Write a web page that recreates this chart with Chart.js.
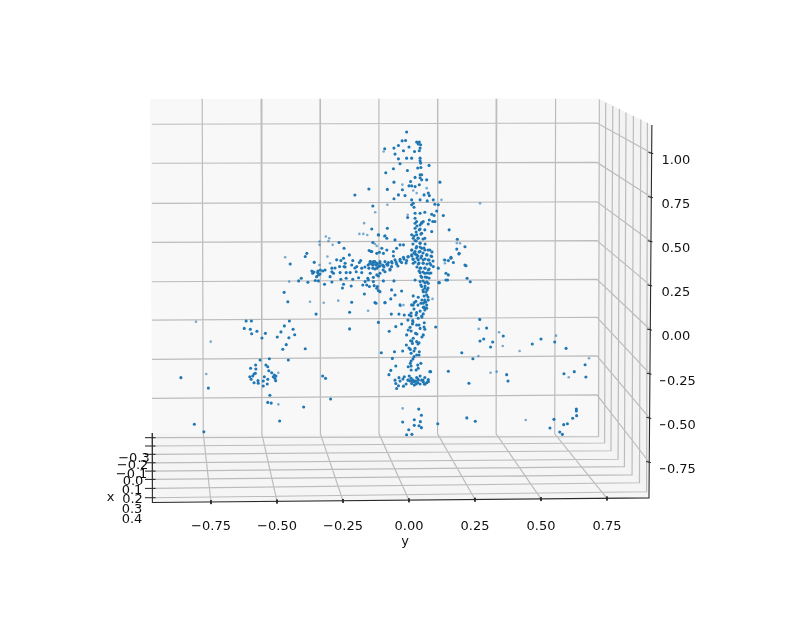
<!DOCTYPE html>
<html><head><meta charset="utf-8">
<script src="https://cdn.jsdelivr.net/npm/chart.js@4/dist/chart.umd.min.js"></script>
<style>html,body{margin:0;padding:0;background:#fff}canvas{display:block;filter:blur(0.45px)}</style>
</head><body><canvas id="c" width="795" height="636"></canvas>
<script>
// Tick labels
const yTicks=[-0.75,-0.5,-0.25,0,0.25,0.5,0.75];
const zTicks=[1,0.75,0.5,0.25,0,-0.25,-0.5,-0.75];
const depthTicks=["−0.3","−0.2","−0.1","0.0","0.1","0.2","0.3","0.4"];
// Scatter values [y, z] (projected)
const nearPoints=[
[-.864,-.271],[-.760,-.330],[-.813,-.535],[-.777,-.577],[-.617,.050],[-.597,.050],[-.624,.008],[-.601,.003],[-.596,-.022],[-.576,-.008],[-.544,-.020],[-.557,-.046],[-.453,.050],[-.472,.022],[-.485,-.012],[-.499,-.041],[-.439,.003],[-.433,-.028],[-.455,-.045],[-.465,-.084],[-.478,-.110],[-.393,-.107],[-.352,.089],[-.225,.005],[-.225,.099],[-.327,-.262],[-.316,-.275],[-.297,-.392],[-.399,-.437],[-.490,-.516],[-.535,-.411],[-.522,-.415],[-.527,-.371],[-.459,.159],[-.217,.156],[-.125,.150],[-.091,.153],[-.116,.042],[-.105,-.130],[-.075,-.008],[-.067,.089],[-.050,.018],[-.038,.089],
[-.564,-.171],[-.529,-.164],[-.457,-.171],[-.600,-.218],[-.581,-.199],[-.580,-.222],[-.542,-.199],[-.535,-.209],[-.531,-.232],[-.520,-.243],[-.510,-.256],[-.504,-.262],[-.514,-.266],[-.508,-.275],[-.505,-.288],[-.603,-.266],[-.587,-.250],[-.582,-.246],[-.592,-.262],[-.598,-.280],[-.587,-.300],[-.572,-.288],[-.571,-.303],[-.552,-.290],[-.548,-.266],[-.535,-.280],[-.537,-.307],[-.552,-.318],
[.268,.059],[.294,.010],[.283,-.052],[.269,-.063],[.317,-.069],[.309,-.097],[.357,-.035],[.467,-.080],[.500,-.052],[.552,-.069],[.595,-.105],[.200,-.130],[.242,-.164],[.149,-.235],[.370,-.254],[.375,-.290],[.227,-.303],[.587,-.249],[.626,-.237],[.667,-.198],[.670,-.267],[.101,.016],[.082,-.237],[.037,-.449],[.047,-.484],[-.024,-.522],[.020,-.509],[.043,-.520],[.020,-.541],[.038,-.543],[.047,-.554],[-.001,-.566],[-.009,-.594],[.011,-.592],[.109,-.532],[.219,-.499],[.251,-.518],[.549,-.507],[.534,-.556],[.571,-.579],[.581,-.592],[.586,-.537],[.600,-.532],[.620,-.501],[.635,-.486],[.634,-.460],[.634,-.449],
[-.034,.141],[-.018,.084],[-.028,.033],[.001,.084],[.010,.141],[.020,.154],[.026,.161],[.060,.159],[.045,.150],[.067,.122],[.060,.112],[.054,.090],[.048,.078],[.029,.097],[.014,.052],[.008,.078],[.035,.065],[.013,.033],[.004,.014],[-.003,-.001],[-.009,-.029],[.029,.027],[.042,.008],[.058,.040],[.060,.003],[.054,-.029],[.025,-.020],[.016,-.048],[.006,-.062],[.013,-.077],[.029,-.067],[.038,-.073],[-.010,-.086],[.005,-.111],[.023,-.105],[.008,-.133],[.029,-.143],[.039,-.124],[.019,-.152],[.008,-.177],[-.055,-.124],[-.024,-.120],[-.063,-.162],[-.050,-.205],[-.069,-.230],[-.076,-.254],[.005,-.190],[-.003,-.209],[.008,-.228],[.033,-.200],[.045,-.190],[.035,-.218],
[-.053,-.285],[-.038,-.271],[-.018,-.266],[.001,-.262],[-.050,-.304],[-.040,-.317],[-.047,-.332],[-.021,-.319],[-.003,-.285],[.008,-.275],[.016,-.285],[.029,-.270],[.042,-.262],[.060,-.270],[.073,-.281],[.079,-.237],[.010,-.304],[.020,-.313],[.033,-.300],[.042,-.307],[.054,-.294],[.067,-.300],[.004,-.290],[.025,-.290],[.035,-.285],[.048,-.285],[.073,-.294],[.058,-.307],[.020,-.294],[.013,-.290],
[.152,.566],[.183,.513],[.190,.433],[.159,.411],[.149,.392],[.168,.381],[.111,.349],[.140,.320],[.149,.311],[.140,.282],[.113,.267],[.220,.292],[.212,.367],[.092,.358],[.212,.470],[.232,.272],
[.029,.613],[.048,.607],[.042,.594],[.023,.575],[.039,.566],[.010,.538],[.029,.538],[.048,.547],[.060,.566],[.086,.556],[.073,.599],[.098,.613],[.035,.518],[.023,.505],[.042,.490],[.060,.518],[.016,.518],
[.029,.471],[.048,.462],[.060,.452],[.079,.452],[.010,.452],[.023,.443],[.042,.443],[.067,.424],[.086,.415],[.010,.424],[.029,.424],[.048,.418],[-.003,.415],[-.021,.411],[-.034,.399],[-.053,.396],[-.066,.386],[.016,.399],[.035,.396],[.054,.396],[.073,.396],[-.009,.392],[-.028,.381],[-.047,.373],[-.066,.358],[.016,.377],[.035,.373],[.054,.377],[.079,.377],[.042,.349],[.060,.349],[.073,.339],[.042,.324],[.060,.320],[.077,.320],[.048,.297],[.067,.297],[.023,.282],[.042,.273],[.060,.267],[.073,.263],[.048,.245],[.060,.235],[.069,.226],[.054,.216],[.067,.197],[.060,.169],[.073,.169],[.054,.150],[.067,.140],[.060,.122],
[-.084,.371],[-.097,.362],[-.110,.377],[-.122,.377],[-.135,.386],[-.147,.386],[-.116,.358],[-.137,.367],[-.072,.339],[-.091,.329],[-.110,.320],[-.122,.311],[-.059,.418],[-.097,.433],[-.122,.433],[-.103,.462],[-.144,.443],[-.059,.443],[-.021,.481],[-.034,.481],[-.047,.462],[-.053,.509],[-.084,.518],[-.082,.575],[-.116,.538],[-.137,.494],[-.097,.277],[-.057,.277],[-.135,.273],[-.120,.245],[-.110,.216],[-.066,.226],[-.053,.197],[-.069,.175],[-.028,.220],[.016,.192],[.016,.140],[.035,.184],[-.091,.154],[-.129,.154],[.054,.127],
[-.009,1.120],[-.026,1.070],[-.013,1.072],[.029,1.063],[.039,1.063],[.035,1.052],[.044,1.048],[.042,1.029],[.039,1.014],[-.092,1.025],[-.057,1.029],[-.040,1.044],[-.021,1.014],[0,1.035],[.021,1.010],[-.053,.995],[-.040,.968],[-.009,.972],[.010,.972],[.042,.972],[.042,.957],[.044,.944],[-.034,.940],[.076,.931],[.033,.916],[.045,.919],[-.059,.912],[-.006,.902],[-.088,.889],[.042,.878],[.048,.878],[.023,.863],[.042,.861],[.048,.849],[.067,.849],[.006,.840],[-.057,.836],[.117,.836],[0,.815],[.010,.815],[.039,.821],[.023,.811],[-.082,.795],[-.025,.793],[.073,.774],[-.040,.764],[-.057,.742],[-.015,.760],[.057,.764],[.077,.760],[.010,.736],[.016,.717],[.042,.736],[.069,.730],[.092,.736],[.098,.711],[.111,.708],[-.137,.701],[.010,.708],[.019,.694],[.023,.660],[.042,.660],[-.005,.636],[.023,.632],[.060,.666],[.086,.654],[.095,.647],[.105,.673],[.130,.647],[.077,.622],[.054,.613],[.023,.603],[.048,.603],[.090,.613],
[-.141,.571],[-.116,.537],[-.091,.533],[-.265,.494],[-.246,.462],[-.151,.449],[-.141,.443],[-.112,.439],[-.084,.452],[-.450,.373],[-.387,.433],[-.393,.415],[-.359,.382],[-.226,.424],[-.248,.405],[-.274,.396],[-.258,.392],[-.242,.377],[-.213,.392],[-.183,.392],[-.188,.381],[-.147,.386],[-.129,.386],[-.110,.386],[-.091,.386],[-.078,.381],[-.150,.373],[-.135,.373],[-.120,.373],[-.100,.367],[-.082,.367],[-.152,.349],[-.137,.349],[-.122,.349],[-.217,.367],[-.246,.358],[-.198,.358],[-.179,.349],[-.263,.358],[-.292,.349],[-.336,.339],[-.368,.333],[-.365,.320],[-.346,.324],[-.327,.333],[-.343,.311],[-.350,.301],[-.292,.329],[-.286,.320],[-.261,.324],[-.238,.324],[-.223,.324],[-.200,.329],[-.179,.324],[-.147,.320],[-.299,.301],[-.213,.286],[-.238,.292],[-.258,.286],[-.191,.295],[-.156,.292],[-.135,.297],[-.116,.305],[-.418,.277],[-.408,.292],[-.383,.269],[-.355,.279],[-.343,.277],[-.320,.258],[-.292,.271],[-.248,.258],[-.252,.237],[-.219,.248],[-.166,.273],[-.154,.282],[-.160,.254],[-.175,.254],[-.150,.245],[-.132,.250],[-.122,.235],[-.116,.222],[-.169,.203],[-.473,.212],[-.205,.763],[-.152,.797],[.181,.457],[.189,.429],[.159,.405],[.136,.395],[.216,.363],[.115,.267],[.146,.282],
[-.155,.367],[-.140,.373],[-.125,.367],[-.110,.361],[-.095,.356],[-.080,.367],[-.064,.378],[-.049,.384],[-.034,.390],[-.019,.401],[-.004,.412],[.011,.418],[.023,.429],[.034,.418],[.015,.401],[-.011,.378],[-.042,.361],[-.072,.344],[-.098,.339],[-.129,.344],[-.167,.356],[-.205,.350],[-.242,.356],[-.280,.350],[-.318,.339],[-.345,.333],[-.360,.327],[-.337,.316],
[.011,.452],[.027,.463],[.042,.469],[.057,.463],[.072,.452],[.087,.441],[.019,.435],[.038,.441],[.053,.435],[.068,.424],[.083,.418],[.030,.407],[.045,.407],[.061,.401],[.076,.395],[.091,.390],[.023,.384],[.038,.378],[.053,.378],[.068,.373],[.083,.367],[.030,.356],[.045,.350],[.061,.350],[.076,.344],[.038,.333],[.053,.327],[.068,.322],[.083,.322],[.045,.305],[.061,.299],[.076,.293],[.053,.276],[.068,.271],[.045,.254],[.061,.248],[.072,.237],[.053,.225],[.064,.214],[.057,.191],[.072,.186],[.049,.169],[.064,.157],
[.030,.588],[.042,.571],[.027,.554],[.045,.542],[.019,.531],[.034,.520],[.053,.514],[.027,.503],[.042,.491],[.015,.486],[.061,.486],
[.034,.140],[.057,.129],[.019,.118],[.042,.106],[.008,.095],[.027,.084],[.049,.072],[-.004,.055],[.015,.044],[.038,.027],[.057,.016],[.008,-.007],[.030,-.024],[.049,-.041],[.011,-.063],[.034,-.080],[0,-.103],[.019,-.120],[.038,-.143],[.015,-.165],[.008,-.205],[.027,-.228],
[-.023,-.279],[-.004,-.284],[.015,-.290],[.034,-.279],[.053,-.284],[.072,-.290],[-.011,-.307],[.027,-.307],[.061,-.307],[-.034,-.290]
];
const farPoints=[
[-.807,.046],[-.751,-.067],[-.768,-.250],[-.495,-.422],[-.375,.159],[-.323,.153],[-.268,.165],[-.155,.108],[-.495,-.243],[.264,.005],[.341,-.014],[.355,-.092],[.419,-.120],[.557,-.033],[.263,-.148],[.309,-.243],[.332,-.237],[.605,-.269],[.682,-.161],[-.024,-.445],[.442,-.511],[.193,.490],[.136,.377],[.132,.396],[-.094,.528],[-.021,.140],[-.032,.135],[.089,.175],[-.096,1.010],[-.025,.822],[.067,.802],[.016,.789],[.029,.774],[.123,.736],[-.082,.708],[-.128,.666],[-.005,.651],[-.170,.604],[-.188,.543],[-.173,.543],[-.158,.537],[-.315,.528],[-.302,.518],[-.305,.503],[-.339,.500],[-.339,.481],[-.289,.481],[-.129,.486],[-.122,.475],[-.469,.411],[-.309,.415],[-.299,.377],[-.339,.367],[-.454,.273],[.269,.716],[.181,.491]
];
// Grid frame, in the same projected units
const wallLeftZ=[1.164,.943,.716,.495,.272,.055,-.167,-.388];
const wallRightZ=[1.171,.948,.725,.505,.286,.071,-.148,-.369];
const floorLeftZ=[-.611,-.658,-.705,-.753,-.800,-.847,-.898,-.951];
const cornerY=[.718,.741,.765,.792,.816,.845,.873,.900];
const cornerZ=[-.605,-.641,-.685,-.733,-.775,-.822,-.866,-.917];
const sideTopY=[.721,.745,.772,.797,.822,.850,.878,.903];
const sideTopZ=[1.304,1.286,1.267,1.250,1.231,1.211,1.191,1.173];
const backPane=[[-.981,1.307],[.718,1.310],[.712,-.593],[-.973,-.584]];
const sidePane=[[.718,1.310],[.920,1.160],[.909,-.952],[.712,-.593]];
const floorPane=[[-.973,-.584],[.712,-.593],[.909,-.952],[-.972,-.978]];

const pt=a=>({x:a[0],y:a[1]});
const GAP={x:NaN,y:NaN};
const spineY=z=>.914+.0052*z;
const frontZ=y=>-.9646+.0138*y;
const grid=[];
yTicks.forEach(v=>{
  grid.push({x:-.114+.8924*v,y:1.309},{x:-.1136+.8875*v,y:-.589},{x:v,y:frontZ(v)},GAP);
});
zTicks.forEach((v,i)=>{
  grid.push({x:-.973,y:wallLeftZ[i]},{x:.712,y:wallRightZ[i]},{x:spineY(v),y:v},GAP);
});
depthTicks.forEach((_,i)=>{
  grid.push({x:-.972,y:floorLeftZ[i]},{x:cornerY[i],y:cornerZ[i]},{x:sideTopY[i],y:sideTopZ[i]},GAP);
});
const spines=[{x:-.973,y:-.584},{x:-.972,y:-.978},{x:.909,y:-.952},{x:.920,y:1.160},GAP];
const ticks=[];
yTicks.forEach(v=>ticks.push({x:v,y:frontZ(v)+.01},{x:v,y:frontZ(v)-.012},GAP));
zTicks.forEach(v=>ticks.push({x:spineY(v)-.012,y:v+.004},{x:spineY(v)+.006,y:v-.002},GAP));
floorLeftZ.forEach(z=>ticks.push({x:-1.0,y:z},{x:-.96,y:z},GAP));

const pane=(data,color)=>({data:data.map(pt),showLine:true,fill:'shape',backgroundColor:color,borderWidth:0,pointRadius:0,clip:false,order:6});
const lines=(data,color,w,order)=>({data,showLine:true,fill:false,borderColor:color,borderWidth:w,pointRadius:0,tension:0,spanGaps:false,clip:false,order});

const depthLabels={
  id:'depthLabels',
  afterDraw(chart){
    const c=chart.ctx;
    const centers=[134,132.6,131.6,133,132,132.5,132,132];
    const rows=[458.5,466,475,482,491,500,510,520];
    c.save();
    c.font='13px "DejaVu Sans"';c.fillStyle='#111';c.textAlign='center';c.textBaseline='middle';
    depthTicks.forEach((t,i)=>c.fillText(t,centers[i],rows[i]));
    c.fillText('x',110.5,497.5);
    c.restore();
  }
};
const fmt=v=>(v<0?'−':'')+Math.abs(v).toFixed(2);
new Chart(document.getElementById('c'),{
  type:'scatter',
  plugins:[depthLabels],
  data:{datasets:[
    pane(backPane,'#f8f8f8'),pane(sidePane,'#f3f3f3'),pane(floorPane,'#f5f5f5'),
    lines(grid,'#bcbcbc',1.2,4),
    lines(spines,'#2a2a2a',1.1,3),
    lines(ticks,'#1e1e1e',1,3),
    {label:'far',data:farPoints.map(pt),pointRadius:1.3,pointBackgroundColor:'rgba(31,119,180,0.6)',pointBorderWidth:0,clip:false,order:2},
    {label:'near',data:nearPoints.map(pt),pointRadius:1.55,pointBackgroundColor:'#1f77b4',pointBorderWidth:0,clip:false,order:1}
  ]},
  options:{
    responsive:false,animation:false,
    layout:{padding:{left:150,top:98,bottom:87,right:0}},
    plugins:{legend:{display:false},tooltip:{enabled:false}},
    events:[],
    scales:{
      x:{type:'linear',position:'bottom',min:-.98106,max:.95076,
        grid:{display:false,drawTicks:false},border:{display:false},
        afterBuildTicks:s=>{s.ticks=yTicks.map(v=>({value:v}));},
        afterFit:s=>{s.height=46;},
        ticks:{autoSkip:false,maxRotation:0,padding:16,color:'#111',font:{family:'"DejaVu Sans"',size:13},callback:v=>fmt(v)},
        title:{display:true,text:'y',color:'#111',font:{family:'"DejaVu Sans"',size:13},padding:{top:0,bottom:0}}
      },
      y:{type:'linear',position:'right',min:-.98075,max:1.3126,
        grid:{display:false,drawTicks:false},border:{display:false},
        afterBuildTicks:s=>{s.ticks=zTicks.map(v=>({value:v}));},
        afterFit:s=>{s.width=135;},
        ticks:{autoSkip:false,padding:-4,crossAlign:'center',labelOffset:7.3,color:'#111',font:{family:'"DejaVu Sans"',size:13},callback:v=>fmt(v)}
      }
    }
  }
});
</script></body></html>
